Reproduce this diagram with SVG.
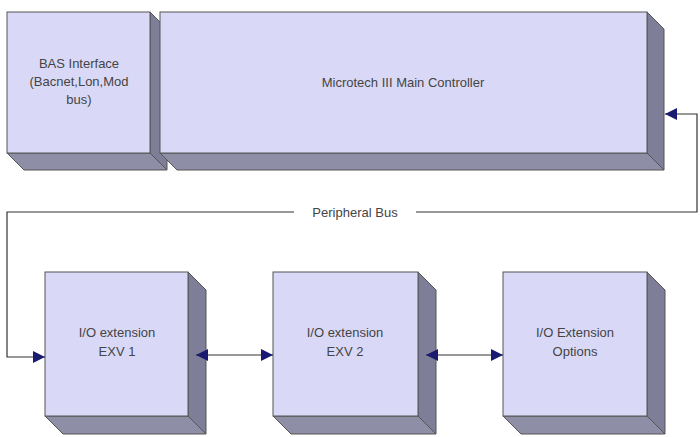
<svg xmlns="http://www.w3.org/2000/svg" width="700" height="437" viewBox="0 0 700 437">
<style>
.f{fill:#d9d9f7;stroke:#555;stroke-width:1}
.s{fill:#7e7e99;stroke:#555;stroke-width:1}
.b{fill:#8e8ea6;stroke:#555;stroke-width:1}
text{font-family:"Liberation Sans",Arial,sans-serif;font-size:13px;fill:#444;text-anchor:middle}
.c{fill:none;stroke:#333;stroke-width:1.2}
</style>
<defs>
<marker id="a" viewBox="0 0 10 10" refX="10" refY="5" markerWidth="12" markerHeight="12" markerUnits="userSpaceOnUse" orient="auto-start-reverse"><path d="M0,0L10,5L0,10z" fill="#1a1a70"/></marker>
</defs>
<rect width="700" height="437" fill="#fff"/>
<g id="bas">
<polygon class="s" points="150,12 167,29 167,170 150,153"/>
<polygon class="b" points="7,153 150,153 167,170 24,170"/>
<rect class="f" x="7" y="12" width="143" height="141"/>
<text x="79" y="68">BAS Interface</text><text x="79" y="86">(Bacnet,Lon,Mod</text><text x="79" y="104">bus)</text>
</g>
<g id="main">
<polygon class="s" points="647,12 664,29 664,170 647,153"/>
<polygon class="b" points="160,153 647,153 664,170 177,170"/>
<rect class="f" x="160" y="12" width="487" height="141"/>
<text x="403" y="87">Microtech III Main Controller</text>
</g>
<g id="io1">
<polygon class="s" points="188,272 206,290 206,434 188,416"/>
<polygon class="b" points="45,416 188,416 206,434 63,434"/>
<rect class="f" x="45" y="272" width="143" height="144"/>
<text x="117" y="337">I/O extension</text><text x="117" y="356">EXV 1</text>
</g>
<g id="io2">
<polygon class="s" points="418,272 436,290 436,434 418,416"/>
<polygon class="b" points="273,416 418,416 436,434 291,434"/>
<rect class="f" x="273" y="272" width="145" height="144"/>
<text x="345" y="337">I/O extension</text><text x="345" y="356">EXV 2</text>
</g>
<g id="io3">
<polygon class="s" points="647,272 665,290 665,434 647,416"/>
<polygon class="b" points="503,416 647,416 665,434 521,434"/>
<rect class="f" x="503" y="272" width="144" height="144"/>
<text x="575" y="337">I/O Extension</text><text x="575" y="356">Options</text>
</g>
<g id="connectors">
<path class="c" d="M294,212H7V357H45" marker-end="url(#a)"/>
<path class="c" d="M416,212H697V114H665" marker-end="url(#a)"/>
<text x="355" y="217">Peripheral Bus</text>
<path class="c" d="M196,355H273" marker-start="url(#a)" marker-end="url(#a)"/>
<path class="c" d="M426,355H503" marker-start="url(#a)" marker-end="url(#a)"/>
</g>
</svg>
